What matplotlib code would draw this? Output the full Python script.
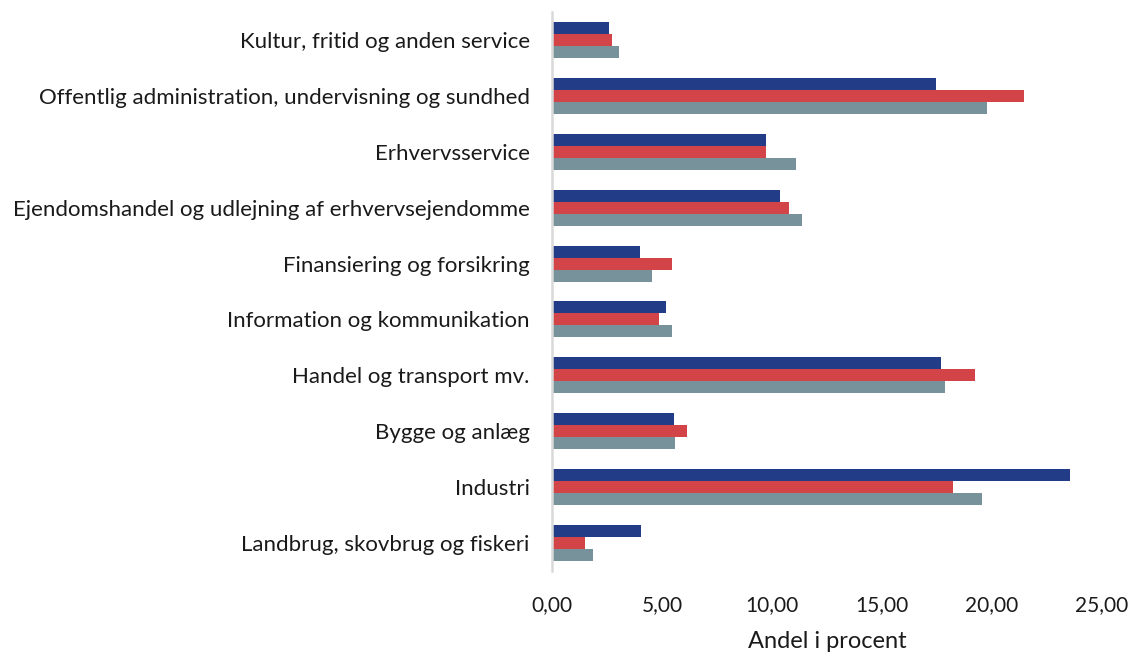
import matplotlib
matplotlib.use("Agg")
import matplotlib.pyplot as plt
import numpy as np

categories = [
    "Kultur, fritid og anden service",
    "Offentlig administration, undervisning og sundhed",
    "Erhvervsservice",
    "Ejendomshandel og udlejning af erhvervsejendomme",
    "Finansiering og forsikring",
    "Information og kommunikation",
    "Handel og transport mv.",
    "Bygge og anlæg",
    "Industri",
    "Landbrug, skovbrug og fiskeri",
]
series_blue = [2.60, 17.47, 9.75, 10.39, 4.00, 5.17, 17.70, 5.55, 23.55, 4.03]
series_red = [2.74, 21.49, 9.72, 10.77, 5.46, 4.86, 19.25, 6.16, 18.25, 1.52]
series_gray = [3.04, 19.77, 11.12, 11.38, 4.56, 5.46, 17.88, 5.61, 19.58, 1.88]
tick_values = [0, 5, 10, 15, 20, 25]
tick_labels = ["0,00", "5,00", "10,00", "15,00", "20,00", "25,00"]
xlabel = "Andel i procent"

plt.rcParams['font.family'] = ['Lato', 'DejaVu Sans']

fig = plt.figure(figsize=(11.3, 6.53), dpi=100)
ax = fig.add_axes([0.4885, 0.1256, 0.4864, 0.856])

y = np.arange(len(categories))
h = 0.215
ax.barh(y - h, series_blue, height=h, color="#223c87")
ax.barh(y, series_red, height=h, color="#d24448")
ax.barh(y + h, series_gray, height=h, color="#77929b")

ax.set_ylim(len(categories) - 0.5, -0.5)
ax.set_xlim(0, 25)
ax.set_yticks(y)
ax.set_yticklabels(categories, fontsize=16, color="#1a1a1a")
ax.set_xticks(tick_values)
ax.set_xticklabels(tick_labels, fontsize=15, color="#1a1a1a")
ax.tick_params(axis='both', length=0)
ax.tick_params(axis='y', pad=16)
ax.tick_params(axis='x', pad=17)
ax.set_xlabel(xlabel, fontsize=17, color="#1a1a1a", labelpad=12)

for s in ["top", "right", "bottom"]:
    ax.spines[s].set_visible(False)
ax.spines["left"].set_color("#d9d9d9")
ax.spines["left"].set_linewidth(1.8)

fig.savefig("out.png", dpi=100)
